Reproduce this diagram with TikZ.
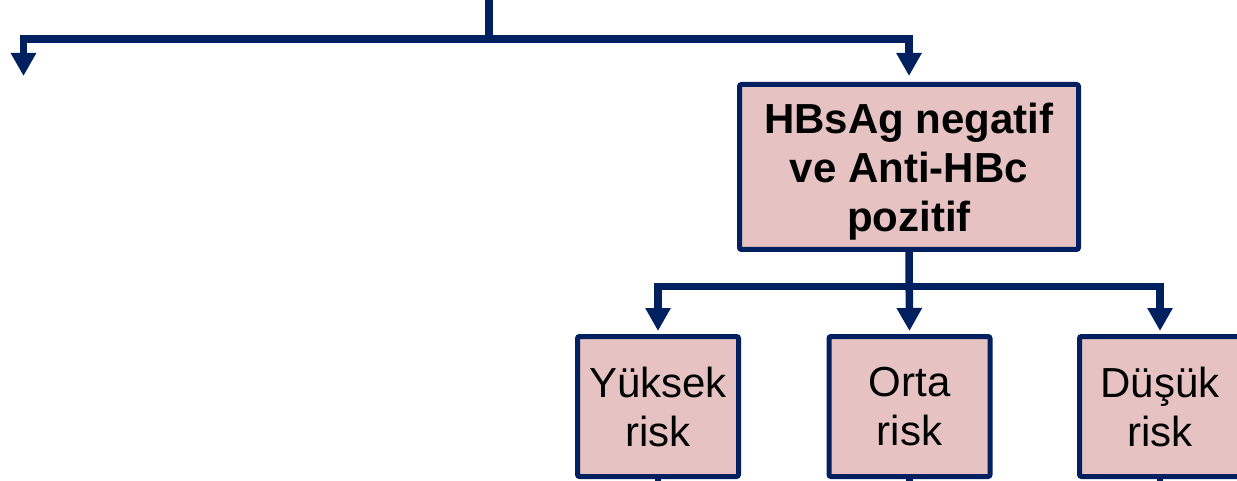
\documentclass[tikz,border=0pt]{standalone}
\usepackage{fontspec}
\setmainfont{Liberation Sans}
\usetikzlibrary{arrows.meta,calc}
\definecolor{navy}{RGB}{0,32,96}
\definecolor{pinkfill}{RGB}{230,194,194}
\tikzset{
  box/.style={draw=navy, line width=5pt, fill=pinkfill, rounded corners=2pt,
    align=center, inner sep=0pt, text depth=0pt,
    font=\fontsize{42}{49}\selectfont},
  conn/.style={draw=navy, line width=7.5pt},
  arr/.style={-{Triangle[width=24pt,length=23pt]}}
}
\begin{document}
\begin{tikzpicture}[x=1pt,y=-1pt]
\useasboundingbox (0,0) rectangle (1237,481);
% boxes
\node[box, minimum width=339pt, minimum height=165pt,
      font=\fontsize{42}{49}\selectfont\bfseries] (hb) at (909,167)
  {HBsAg negatif\\ve Anti-HBc\\pozitif};
\node[box, minimum width=161pt, minimum height=140pt] (yk) at (658,406.5) {Yüksek\\risk};
\node[box, minimum width=161pt, minimum height=140pt] (ot) at (909.5,406.5) {Orta\\risk};
\node[box, minimum width=161pt, minimum height=140pt] (dk) at (1160,406.5) {Düşük\\risk};
% top connectors
\coordinate (top) at (489,-10);
\coordinate (split) at (489,39);
\coordinate (leftend) at (23.5,76);
\draw[conn] (top) -- (split);
\draw[conn,arr] (split) -| (leftend);
\draw[conn,arr,shorten >=6pt] (split) -| (hb.north);
% lower connectors
\coordinate (s2) at ($(hb.south)+(0,34.5)$);
\draw[conn,arr,shorten >=3pt] (hb.south) -- (ot.north);
\draw[conn,arr,shorten >=3pt] (s2) -| (yk.north);
\draw[conn,arr,shorten >=3pt] (s2) -| (dk.north);
% stubs below the boxes
\draw[conn,line width=6.5pt] (yk.south) -- ++(0,20);
\draw[conn,line width=6.5pt] (ot.south) -- ++(0,20);
\draw[conn,line width=6.5pt] (dk.south) -- ++(0,20);
\end{tikzpicture}
\end{document}
